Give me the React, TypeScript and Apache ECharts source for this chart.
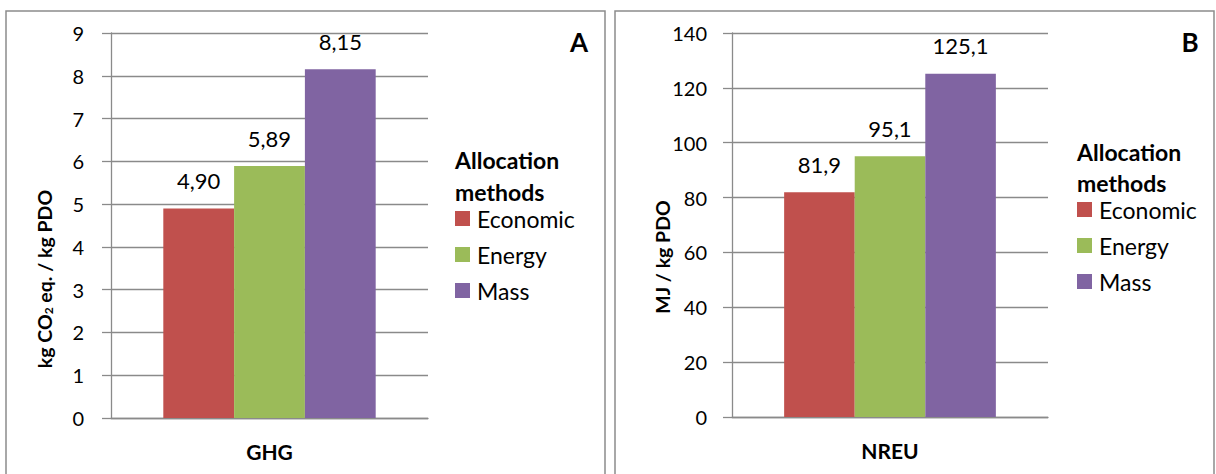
import React, { useEffect, useRef } from "react";
import * as echarts from "echarts";

// Allocation methods and the two impact indicators
const methods = ["Economic", "Energy", "Mass"];
const ghgCategory = ["GHG"];
const nreuCategory = ["NREU"];
const ghgValues = [4.9, 5.89, 8.15];
const nreuValues = [81.9, 95.1, 125.1];
const methodColors = ["#C0504D", "#9BBB59", "#8064A2"];

const FONT = "Lato, 'Open Sans', sans-serif";
const GRID_COLOR = "#8A8A8A";
const BORDER_COLOR = "#8C8C8C";

const commaNumber = (v: number, digits: number) => v.toFixed(digits).replace(".", ",");

function yAxisFor(gridIndex: number, max: number, interval: number, labelMargin: number) {
  return {
    type: "value",
    gridIndex,
    min: 0,
    max,
    interval,
    axisLine: { show: true, lineStyle: { color: GRID_COLOR, width: 1.3 } },
    axisTick: { show: true, length: 9, lineStyle: { color: GRID_COLOR, width: 1.3 } },
    axisLabel: { fontFamily: FONT, fontSize: 20, color: "#000", margin: labelMargin },
    splitLine: { show: true, lineStyle: { color: GRID_COLOR, width: 1.3 } },
  };
}

function xAxisFor(gridIndex: number, data: string[]) {
  return {
    type: "category",
    gridIndex,
    data,
    axisLine: { show: true, lineStyle: { color: GRID_COLOR, width: 1.3 } },
    axisTick: { show: false },
    axisLabel: { fontFamily: FONT, fontSize: 21, fontWeight: "bold", color: "#000", margin: 23 },
  };
}

function seriesFor(axisIndex: number, values: number[], digits: number) {
  return methods.map((m, i) => ({
    name: m,
    type: "bar",
    xAxisIndex: axisIndex,
    yAxisIndex: axisIndex,
    data: [values[i]],
    barGap: "0%",
    barCategoryGap: "33%",
    itemStyle: { color: methodColors[i] },
    label: {
      show: true,
      position: "top",
      distance: 17,
      fontFamily: FONT,
      fontSize: 22,
      color: "#000",
      formatter: (p: any) => commaNumber(p.value, digits),
    },
  }));
}

function legendFor(left: number, top: number) {
  return {
    orient: "vertical",
    left,
    top,
    padding: 0,
    itemWidth: 15,
    itemHeight: 15,
    itemGap: 13,
    icon: "rect",
    selectedMode: false,
    data: methods,
    textStyle: { fontFamily: FONT, fontSize: 23, color: "#000", padding: [0, 0, 0, 2] },
  };
}

function legendTitle(left: number, top: number, lineHeight: number) {
  return {
    type: "text",
    left,
    top,
    style: {
      text: "Allocation\nmethods",
      fontFamily: FONT,
      fontWeight: "bold",
      fontSize: 23,
      lineHeight,
      fill: "#000",
    },
  };
}

function yTitle(x: number, y: number, text: string) {
  return {
    type: "text",
    x,
    y,
    rotation: Math.PI / 2,
    style: {
      text,
      fontFamily: FONT,
      fontWeight: "bold",
      fontSize: 19.5,
      fill: "#000",
      align: "center",
      verticalAlign: "middle",
      rich: {
        sub: { fontFamily: FONT, fontWeight: "bold", fontSize: 12, fill: "#000", padding: [8, 0, 0, 0] },
      },
    },
  };
}

function panelLetter(x: number, text: string) {
  return {
    type: "text",
    x,
    y: 42,
    style: { text, fontFamily: FONT, fontWeight: "bold", fontSize: 26, fill: "#000", align: "center", verticalAlign: "middle" },
  };
}

function panelFrame(x: number) {
  return {
    type: "rect",
    shape: { x, y: 11, width: 599, height: 470 },
    style: { fill: "none", stroke: BORDER_COLOR, lineWidth: 1.5 },
    silent: true,
    z: -1,
  };
}

export default function App() {
  const ref = useRef<HTMLDivElement>(null);

  useEffect(() => {
    if (!ref.current) return;
    const chart = echarts.init(ref.current, null, { renderer: "svg" });

    chart.setOption({
      animation: false,
      backgroundColor: "#fff",
      grid: [
        { left: 111, top: 33, width: 317, height: 385 },
        { left: 732, top: 33, width: 316, height: 384 },
      ],
      xAxis: [xAxisFor(0, ghgCategory), xAxisFor(1, nreuCategory)],
      yAxis: [yAxisFor(0, 9, 1, 27), yAxisFor(1, 140, 20, 25)],
      legend: [legendFor(455, 207), legendFor(1077, 198)],
      series: [...seriesFor(0, ghgValues, 2), ...seriesFor(1, nreuValues, 1)],
      graphic: [
        panelFrame(6),
        panelFrame(615),
        panelLetter(579, "A"),
        panelLetter(1190, "B"),
        legendTitle(455, 144, 32),
        legendTitle(1077, 136, 31),
        yTitle(44, 279, "kg CO{sub|2} eq. / kg PDO"),
        yTitle(662, 257, "MJ / kg PDO"),
      ],
    });

    return () => chart.dispose();
  }, []);

  return (
    <div
      ref={ref}
      style={{ position: "fixed", left: 0, top: 0, width: 1216, height: 474, background: "#fff" }}
    />
  );
}
